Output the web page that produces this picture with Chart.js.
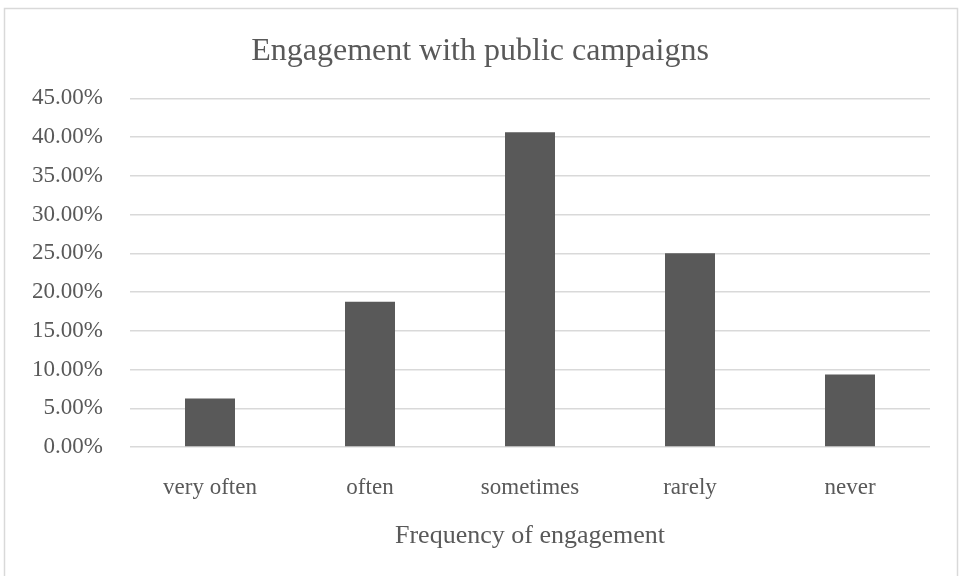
<!DOCTYPE html>
<html>
<head>
<meta charset="utf-8">
<script src="https://cdn.jsdelivr.net/npm/chart.js@4"></script>
<style>
html,body{margin:0;padding:0;background:#fff;}
#wrap{position:relative;width:960px;height:576px;}
</style>
</head>
<body>
<div id="wrap"><canvas id="c" width="960" height="576"></canvas></div>
<script>
const categories = ["very often", "often", "sometimes", "rarely", "never"];
const values = [6.25, 18.75, 40.625, 25, 9.375];
const yTicks = [0, 5, 10, 15, 20, 25, 30, 35, 40, 45];

const frame = {
  id: 'frame',
  beforeDraw(chart) {
    const ctx = chart.ctx;
    ctx.save();
    ctx.fillStyle = '#ffffff';
    ctx.fillRect(0, 0, chart.width, chart.height);
    ctx.strokeStyle = '#d9d9d9';
    ctx.lineWidth = 1.5;
    ctx.strokeRect(4.5, 8.5, 953, 600);
    ctx.restore();
  }
};

const serif = "'Liberation Serif', 'Times New Roman', serif";

new Chart(document.getElementById('c'), {
  type: 'bar',
  data: {
    labels: categories,
    datasets: [{
      data: values,
      backgroundColor: '#595959',
      borderWidth: 0,
      categoryPercentage: 1.0,
      barPercentage: 0.3125
    }]
  },
  plugins: [frame],
  options: {
    responsive: false,
    animation: false,
    devicePixelRatio: 1,
    layout: { padding: 0 },
    plugins: {
      legend: { display: false },
      tooltip: { enabled: false },
      title: {
        display: true,
        text: 'Engagement with public campaigns',
        color: '#595959',
        font: { family: serif, size: 32, weight: 'normal' },
        padding: { top: 32, bottom: 28 }
      }
    },
    scales: {
      x: {
        grid: { display: false, drawTicks: false },
        border: { display: false },
        ticks: {
          color: '#595959',
          font: { family: serif, size: 23 },
          padding: 27
        },
        title: {
          display: true,
          text: 'Frequency of engagement',
          color: '#595959',
          font: { family: serif, size: 26 },
          padding: { top: 0, bottom: 24 }
        },
        afterFit(scale) { scale.height = 576 - 447; }
      },
      y: {
        min: 0,
        max: 45,
        afterBuildTicks(scale) { scale.ticks = yTicks.map(v => ({ value: v })); },
        grid: { color: '#d9d9d9', lineWidth: 1.5, drawTicks: false },
        border: { display: false },
        ticks: {
          color: '#595959',
          font: { family: serif, size: 23 },
          padding: 27,
          callback: v => v.toFixed(2) + '%'
        },
        afterFit(scale) { scale.width = 130; }
      },
      yRight: {
        position: 'right',
        min: 0,
        max: 45,
        grid: { display: false, drawTicks: false },
        border: { display: false },
        ticks: { display: false },
        afterFit(scale) { scale.width = 30; }
      }
    }
  }
});
</script>
</body>
</html>
